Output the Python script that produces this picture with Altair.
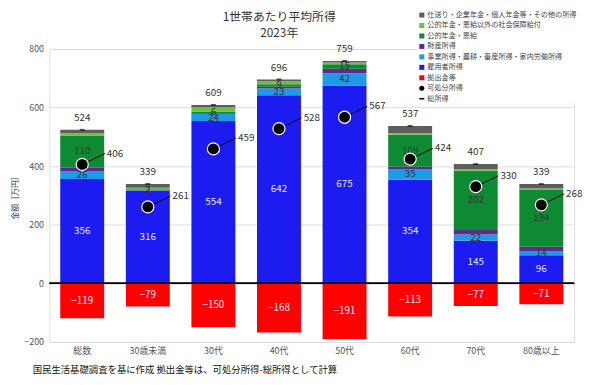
import altair as alt
import pandas as pd

categories = ["総数", "30歳未満", "30代", "40代", "50代", "60代", "70代", "80歳以上"]

employee = [356, 316, 554, 642, 675, 354, 145, 96]
business = [26, 2, 24, 23, 42, 35, 22, 14]
property_income = [13, 1, 3, 6, 16, 9, 15, 15]
pension = [110, 2, 6, 9, 15, 109, 202, 194]
other_social = [7, 5, 14, 11, 6, 6, 5, 5]
remittance = [12, 13, 8, 5, 5, 24, 18, 15]
contributions = [-119, -79, -150, -168, -191, -113, -77, -71]
disposable = [406, 261, 459, 528, 567, 424, 330, 268]
total = [524, 339, 609, 696, 759, 537, 407, 339]

title_line1 = "1世帯あたり平均所得"
title_line2 = "2023年"
footer_text = "国民生活基礎調査を基に作成 拠出金等は、可処分所得-総所得として計算"

S_REM = "仕送り・企業年金・個人年金等・その他の所得"
S_OTH = "公的年金・恩給以外の社会保障給付"
S_PEN = "公的年金・恩給"
S_PRO = "財産所得"
S_BUS = "事業所得・農耕・畜産所得・家内労働所得"
S_EMP = "雇用者所得"
S_CON = "拠出金等"
S_DIS = "可処分所得"
S_TOT = "総所得"

legend_order = [S_REM, S_OTH, S_PEN, S_PRO, S_BUS, S_EMP, S_CON, S_DIS, S_TOT]
legend_colors = ["#5e5e5e", "#72c043", "#0e8a32", "#5a2d8c", "#1e9be6", "#1c1cf0",
                 "#ff0000", "#000000", "#000000"]
legend_shapes = ["square"] * 7 + ["circle", "M-1,-0.3H1V0.3H-1Z"]

stack_series = [(S_EMP, employee), (S_BUS, business), (S_PRO, property_income),
                (S_PEN, pension), (S_OTH, other_social), (S_REM, remittance)]

rows = []
for i, c in enumerate(categories):
    base = 0
    for name, vals in stack_series:
        v = vals[i]
        rows.append({"cat": c, "series": name, "v": v, "y0": base, "y1": base + v,
                     "mid": base + v / 2})
        base += v
    v = contributions[i]
    rows.append({"cat": c, "series": S_CON, "v": v, "y0": 0, "y1": v, "mid": v / 2})
seg = pd.DataFrame(rows)

pts = pd.DataFrame({"cat": categories, "disp": disposable, "total": total})

FONT = "Noto Sans CJK JP"

xenc = alt.X("cat:N", sort=categories,
             scale=alt.Scale(paddingInner=0.33, paddingOuter=0.165),
             axis=alt.Axis(title=None, labelAngle=0, labelFontSize=9, labelColor="#555",
                           ticks=False, domain=False, labelPadding=5, labelFont=FONT))
yscale = alt.Scale(domain=[-200, 800], nice=False, zero=False)
yaxis = alt.Axis(title="金額［万円］", values=list(range(-200, 801, 100)), labelFontSize=9,
                 labelColor="#555", ticks=False, domain=False, labelPadding=6,
                 gridColor="#dcdcdc", titleFontSize=8, titleFontWeight="normal",
                 titleColor="#444", titlePadding=4, labelFont=FONT, titleFont=FONT)
cscale = alt.Scale(domain=legend_order, range=legend_colors)

leg_props = dict(title=None, orient="none", legendX=373, legendY=-39, labelFontSize=7.2,
                 labelColor="#444", symbolSize=26, symbolOpacity=1, rowPadding=2.6,
                 fillColor="white", padding=1, labelOffset=2, labelFont=FONT,
                 symbolStrokeWidth=0, labelLimit=300)

bars = alt.Chart(seg).mark_bar().encode(
    x=xenc,
    y=alt.Y("y1:Q", scale=yscale, axis=yaxis),
    y2="y0:Q",
    color=alt.Color("series:N", scale=cscale, sort=legend_order, legend=alt.Legend(**leg_props)),
)

zero = alt.Chart(pts).mark_rule(color="black", strokeWidth=1).encode(y=alt.datum(0))

light_labels = alt.Chart(seg).transform_filter(
    alt.FieldOneOfPredicate(field="series", oneOf=[S_EMP, S_CON])
).mark_text(fontSize=10, color="#e6e6ff", font=FONT).encode(
    x=alt.X("cat:N", sort=categories), y="mid:Q", text="v:Q")

dark_labels = alt.Chart(seg).transform_filter(
    alt.FieldOneOfPredicate(field="series", oneOf=[S_BUS, S_PEN])
).mark_text(fontSize=10, color="#333333", font=FONT).encode(
    x=alt.X("cat:N", sort=categories), y="mid:Q", text="v:Q")

tot_tick = alt.Chart(pts).mark_tick(color="#111", thickness=2, size=5).encode(
    x=alt.X("cat:N", sort=categories), y="total:Q")

tot_text = alt.Chart(pts).mark_text(fontSize=10, color="#333", dy=-12, font=FONT).encode(
    x=alt.X("cat:N", sort=categories), y="total:Q", text="total:Q")

leader = alt.Chart(pts).mark_rule(color="black", strokeWidth=1, x2Offset=23, y2Offset=-11).encode(
    x=alt.X("cat:N", sort=categories, bandPosition=0.5),
    x2=alt.X2("cat:N", bandPosition=0.5),
    y="disp:Q", y2="disp:Q")

dots = alt.Chart(pts).mark_point(filled=True, shape="circle", size=150, fill="black",
                                 stroke="white", strokeWidth=1.2, opacity=1).encode(
    x=alt.X("cat:N", sort=categories), y="disp:Q")

disp_text = alt.Chart(pts).mark_text(fontSize=10, color="#333", align="left", dx=25, dy=-11,
                                     font=FONT).encode(
    x=alt.X("cat:N", sort=categories), y="disp:Q", text="disp:Q")

leg_df = pd.DataFrame({"series": legend_order, "cat": categories[0], "v": 0})
legend_layer = alt.Chart(leg_df).mark_point(filled=True, opacity=0).encode(
    x=alt.X("cat:N", sort=categories), y="v:Q",
    color=alt.Color("series:N", scale=cscale, sort=legend_order, legend=alt.Legend(**leg_props)),
    shape=alt.Shape("series:N", scale=alt.Scale(domain=legend_order, range=legend_shapes),
                    sort=legend_order, legend=alt.Legend(**leg_props)),
)

title1 = alt.Chart(pd.DataFrame({"t": [title_line1]})).mark_text(
    align="center", baseline="middle", fontSize=12, color="#333", font=FONT).encode(
    x=alt.value(233), y=alt.value(-32), text="t:N")
title2 = alt.Chart(pd.DataFrame({"t": [title_line2]})).mark_text(
    align="center", baseline="middle", fontSize=12, color="#333", font=FONT).encode(
    x=alt.value(233), y=alt.value(-16), text="t:N")

footer = alt.Chart(pd.DataFrame({"t": [footer_text]})).mark_text(
    align="left", baseline="middle", fontSize=9.5, color="#111", font=FONT).encode(
    x=alt.value(-17), y=alt.value(326), text="t:N")

chart = alt.layer(bars, zero, light_labels, dark_labels, tot_tick, tot_text, leader, dots,
                  disp_text, legend_layer, title1, title2, footer).properties(
    width=532, height=297,
    autosize=alt.AutoSizeParams(type="none"),
    padding={"left": 42, "top": 39, "right": 8, "bottom": 33},
).configure_view(stroke=None).configure(font=FONT)

chart.save("out.html", embed_options={"renderer": "svg", "actions": False})
